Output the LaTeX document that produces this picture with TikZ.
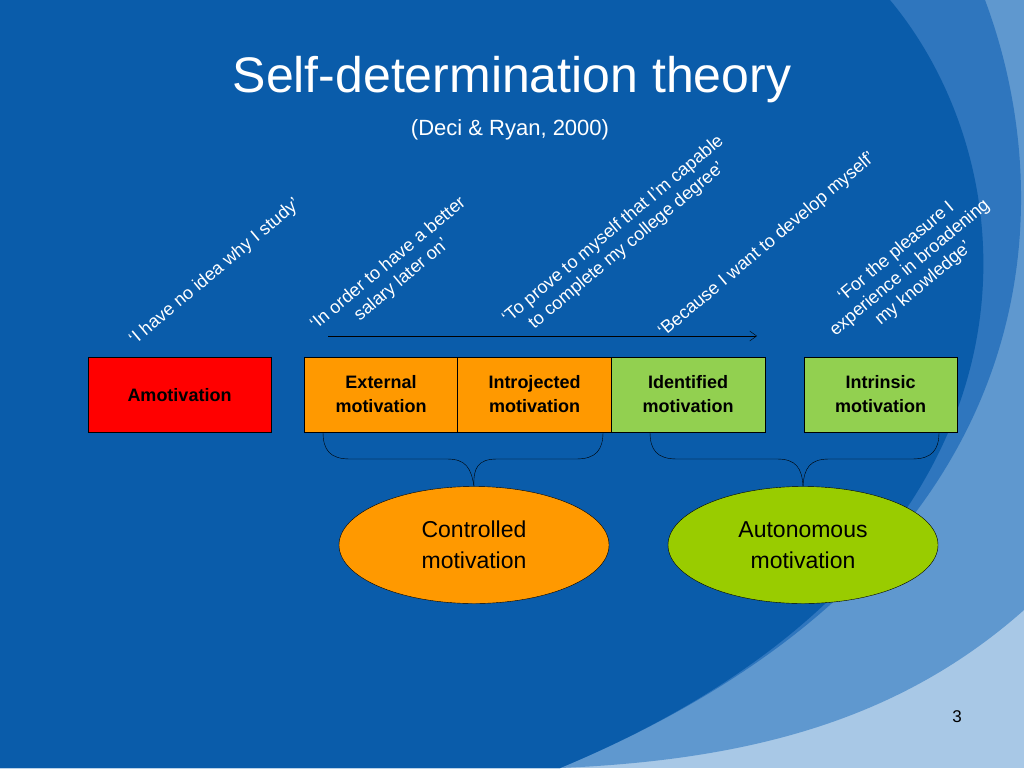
\documentclass[tikz,border=0pt]{standalone}
\usepackage{fontspec}
\setmainfont{Liberation Sans}
\usetikzlibrary{shapes.geometric,arrows.meta}
\definecolor{bgdark}{HTML}{0A5CAA}
\definecolor{band1}{HTML}{2F76BE}
\definecolor{band2}{HTML}{5F98CF}
\definecolor{band3}{HTML}{A8C8E6}
\definecolor{oran}{HTML}{FF9900}
\definecolor{lgreen}{HTML}{92D050}
\definecolor{egreen}{HTML}{99CC00}
\tikzset{
 mbox/.style={draw=black,thin,minimum width=154pt,minimum height=75pt,inner sep=0pt,align=center,font=\fontsize{18}{24}\selectfont\bfseries},
 mell/.style={draw=black,thin,ellipse,minimum width=270pt,minimum height=117pt,align=center,font=\fontsize{23}{31}\selectfont},
 quote/.style={text=white,rotate=40,align=center,font=\fontsize{18}{21}\selectfont},
 brace/.style={draw=black,thin}
}
\begin{document}
\begin{tikzpicture}[x=1pt,y=1pt]
\useasboundingbox (0,0) rectangle (1024,-768);
\fill[band3] (0,0) rectangle (1024,-768);
\fill[band2] (0,0) -- (1024,0) -- (1024,-610) .. controls (900,-720) and (750,-760) .. (560,-768) -- (0,-768) -- cycle;
\fill[band1] (0,0) -- (985,0) .. controls (1060,-200) and (1060,-560) .. (560,-768) -- (0,-768) -- cycle;
\fill[bgdark] (0,0) -- (890,0) .. controls (1040,-180) and (1060,-560) .. (560,-768) -- (0,-768) -- cycle;
\node[text=white,font=\fontsize{50}{56}\selectfont] (title) at (512,-80) {Self-determination theory};
\node[text=white,font=\fontsize{22}{26}\selectfont] (sub) at (510,-130) {(Deci \& Ryan, 2000)};
\node[mbox,fill=red,minimum width=183pt] (amo) at (179.5,-394.5) {};
\node[font=\fontsize{18}{24}\selectfont\bfseries] (amot) at (179.5,-395) {Amotivation};
\node[mbox,fill=oran] (ext) at (381,-394.5) {External\\motivation};
\node[mbox,fill=oran] (intro) at (534.5,-394.5) {Introjected\\motivation};
\node[mbox,fill=lgreen] (iden) at (688,-394.5) {Identified\\motivation};
\node[mbox,fill=lgreen,minimum width=153pt] (intr) at (880.5,-394.5) {Intrinsic\\motivation};
\coordinate (a1) at (328,-336);
\coordinate (a2) at (757,-336);
\draw[-{Straight Barb[length=7pt,width=10pt]},thin] (a1) -- (a2);
\node[mell,fill=oran] (ctrl) at (474,-545) {Controlled\\motivation};
\node[mell,fill=egreen] (auto) at (803,-545) {Autonomous\\motivation};
\draw[brace] (323,-432) .. controls (323,-450) and (330,-459) .. (350,-459) -- (447,-459) .. controls (466,-459) and (471,-468) .. (ctrl.north);
\draw[brace] (603,-432) .. controls (603,-450) and (596,-459) .. (576,-459) -- (497,-459) .. controls (478,-459) and (473,-468) .. (ctrl.north);
\draw[brace] (650,-432) .. controls (650,-450) and (657,-459) .. (677,-459) -- (777,-459) .. controls (796,-459) and (802,-468) .. (auto.north);
\draw[brace] (939,-432) .. controls (939,-450) and (932,-459) .. (912,-459) -- (829,-459) .. controls (810,-459) and (804,-468) .. (auto.north);
\node[quote] (q1) at (215,-272) {‘I have no idea why I study’};
\node[quote] (q2) at (395,-272) {‘In order to have a better\\salary later on’};
\node[quote] (q3) at (620,-238) {‘To prove to myself that I’m capable\\to complete my college degree’};
\node[quote] (q4) at (767,-245) {‘Because I want to develop myself’};
\node[quote] (q5) at (910,-268) {‘For the pleasure I\\experience in broadening\\my knowledge’};
\node[font=\fontsize{17}{20}\selectfont] (pg) at (957,-717) {3};
\end{tikzpicture}
\end{document}
